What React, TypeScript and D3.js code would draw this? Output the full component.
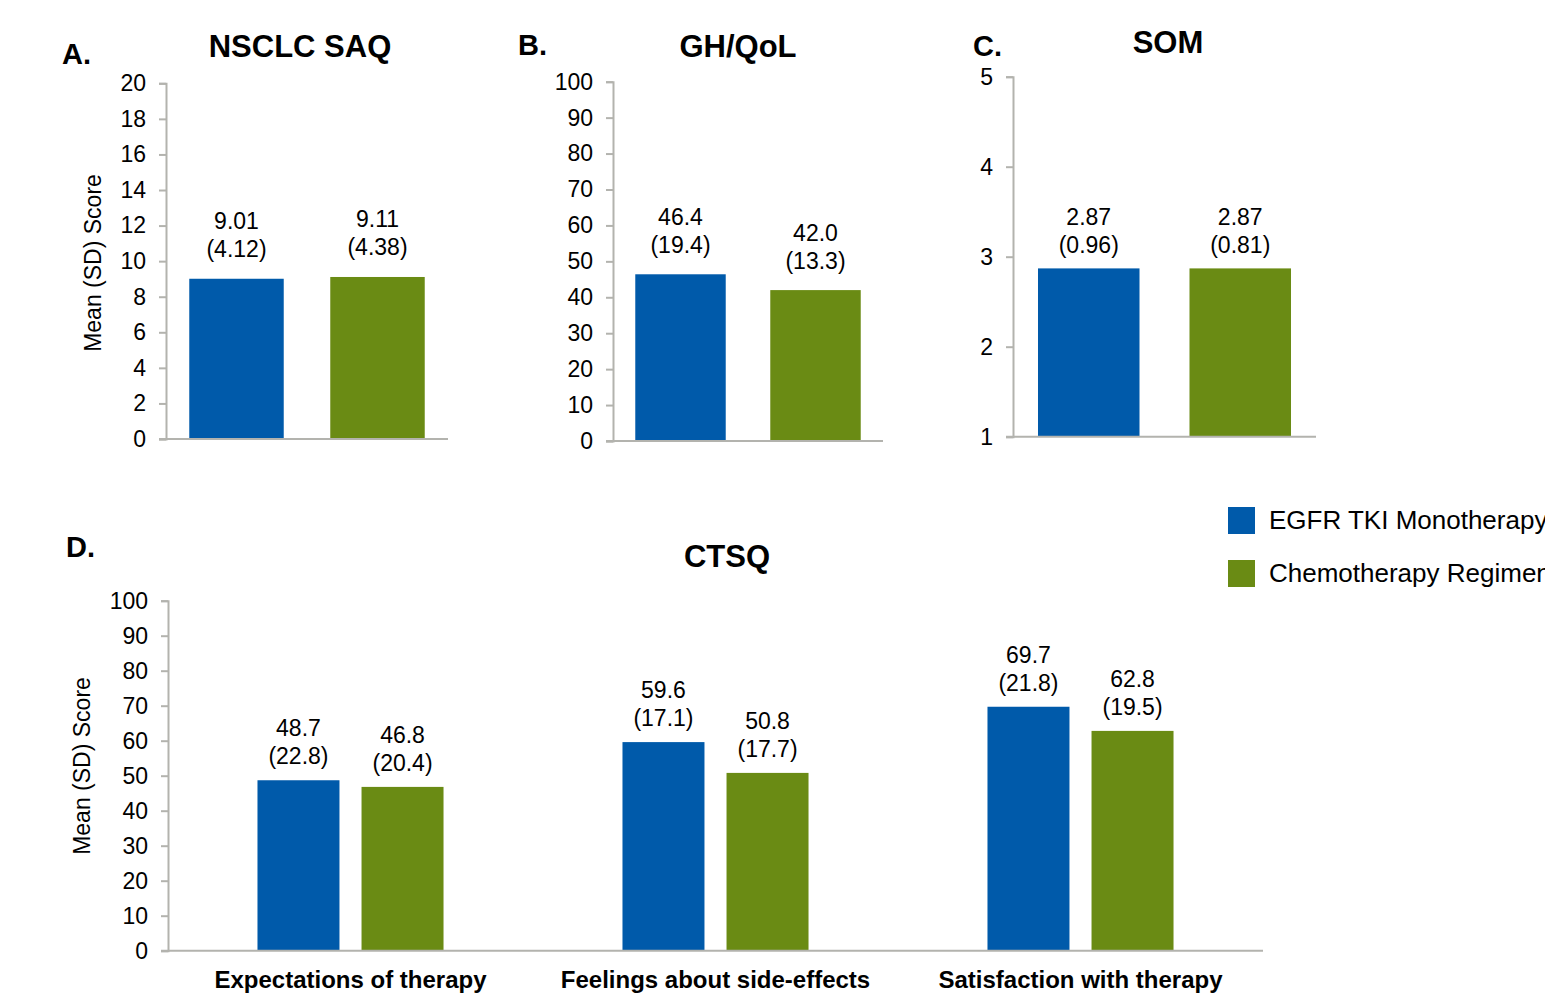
import React, { useEffect, useRef } from 'react';
import * as d3 from 'd3';

// series
const seriesNames = ['EGFR TKI Monotherapy', 'Chemotherapy Regimen'];
const seriesColors = ['#005aaa', '#6a8b14'];

// panel A - NSCLC SAQ
const saqMeans = [9.01, 9.11];
const saqSD = [4.12, 4.38];
const saqTicks = [0, 2, 4, 6, 8, 10, 12, 14, 16, 18, 20];

// panel B - GH/QoL
const ghqolMeans = [46.4, 42.0];
const ghqolSD = [19.4, 13.3];
const pctTicks = [0, 10, 20, 30, 40, 50, 60, 70, 80, 90, 100];

// panel C - SOM
const somMeans = [2.87, 2.87];
const somSD = [0.96, 0.81];
const somTicks = [1, 2, 3, 4, 5];

// panel D - CTSQ
const ctsqCategories = ['Expectations of therapy', 'Feelings about side-effects', 'Satisfaction with therapy'];
const ctsqEgfrMeans = [48.7, 59.6, 69.7];
const ctsqEgfrSD = [22.8, 17.1, 21.8];
const ctsqChemoMeans = [46.8, 50.8, 62.8];
const ctsqChemoSD = [20.4, 17.7, 19.5];

const FONT = '"Liberation Sans", Arial, sans-serif';
const AXIS_COLOR = '#b3b3ae';

type Sel = d3.Selection<SVGGElement, unknown, null, undefined>;

function addText(g: Sel, x: number, y: number, text: string, size: number, opts: { bold?: boolean; anchor?: string } = {}) {
  return g.append('text')
    .attr('x', x).attr('y', y)
    .attr('text-anchor', opts.anchor ?? 'middle')
    .style('font-family', FONT)
    .style('font-weight', opts.bold ? 'bold' : 'normal')
    .style('font-size', `${size}px`)
    .attr('fill', '#000')
    .text(text);
}

function drawYAxis(g: Sel, y: d3.ScaleLinear<number, number>, x0: number, x1: number, ticks: number[]) {
  const ax = g.append('g')
    .attr('transform', `translate(${x0},0)`)
    .call(d3.axisLeft(y).tickValues(ticks).tickSize(7).tickPadding(13).tickFormat(d3.format('d')));
  ax.select('.domain').attr('stroke', AXIS_COLOR).attr('stroke-width', 2);
  ax.selectAll('.tick line').attr('stroke', AXIS_COLOR).attr('stroke-width', 2);
  ax.selectAll('.tick text')
    .attr('fill', '#000')
    .style('font-family', FONT)
    .style('font-size', '23px');
  // baseline
  g.append('line')
    .attr('x1', x0 - 7).attr('x2', x1)
    .attr('y1', y.range()[0]).attr('y2', y.range()[0])
    .attr('stroke', AXIS_COLOR).attr('stroke-width', 2);
}

function barLabel(g: Sel, cx: number, top: number, gap: number, mean: string, sd: string) {
  addText(g, cx, top - gap - 28, mean, 23);
  addText(g, cx, top - gap, `(${sd})`, 23);
}

function drawSmallPanel(
  svg: Sel,
  opts: { x0: number; x1: number; yTop: number; yBot: number; domain: [number, number]; ticks: number[]; means: number[]; sds: number[]; digits: number; gap: number },
) {
  const { x0, x1, yTop, yBot, domain, ticks, means, sds, digits, gap } = opts;
  const g = svg.append('g');
  const y = d3.scaleLinear().domain(domain).range([yBot, yTop]);
  const x = d3.scaleBand<string>().domain(seriesNames).range([x0, x1]).paddingInner(0.33).paddingOuter(0.165);

  seriesNames.forEach((s, i) => {
    g.append('rect')
      .attr('x', x(s)!)
      .attr('y', y(means[i]))
      .attr('width', x.bandwidth())
      .attr('height', yBot - y(means[i]))
      .attr('fill', seriesColors[i]);
    barLabel(g, x(s)! + x.bandwidth() / 2, y(means[i]), gap, means[i].toFixed(digits), sds[i].toFixed(digits));
  });
  drawYAxis(g, y, x0, x1, ticks);
}

function yLabel(svg: Sel, cx: number, cy: number) {
  const g = svg.append('g').attr('transform', `translate(${cx},${cy}) rotate(-90)`) as unknown as Sel;
  addText(g, 0, 0, 'Mean (SD) Score', 23).attr('dy', '0.35em');
}

export default function App() {
  const ref = useRef<SVGSVGElement>(null);

  useEffect(() => {
    if (!ref.current) return;
    const root = d3.select(ref.current);
    root.selectAll('*').remove();
    const svg = root.append('g') as unknown as Sel;

    // A
    addText(svg, 62, 64, 'A.', 29, { bold: true, anchor: 'start' });
    addText(svg, 300, 57, 'NSCLC SAQ', 31, { bold: true });
    yLabel(svg, 93, 263);
    drawSmallPanel(svg, { x0: 166, x1: 448, yTop: 83.3, yBot: 439, domain: [0, 20], ticks: saqTicks, means: saqMeans, sds: saqSD, digits: 2, gap: 22 });

    // B
    addText(svg, 518, 55, 'B.', 29, { bold: true, anchor: 'start' });
    addText(svg, 738, 57, 'GH/QoL', 31, { bold: true });
    drawSmallPanel(svg, { x0: 613, x1: 883, yTop: 81.7, yBot: 441, domain: [0, 100], ticks: pctTicks, means: ghqolMeans, sds: ghqolSD, digits: 1, gap: 21 });

    // C
    addText(svg, 973, 56, 'C.', 29, { bold: true, anchor: 'start' });
    addText(svg, 1168, 53, 'SOM', 31, { bold: true });
    drawSmallPanel(svg, { x0: 1013, x1: 1316, yTop: 76.7, yBot: 436.7, domain: [1, 5], ticks: somTicks, means: somMeans, sds: somSD, digits: 2, gap: 15 });

    // D
    addText(svg, 66, 557, 'D.', 29, { bold: true, anchor: 'start' });
    addText(svg, 727, 567, 'CTSQ', 31, { bold: true });
    yLabel(svg, 82, 766);
    const dx0 = 168, dx1 = 1263, dTop = 600.7, dBot = 950.7;
    const gD = svg.append('g');
    const yD = d3.scaleLinear().domain([0, 100]).range([dBot, dTop]);
    const xD = d3.scaleBand<string>().domain(ctsqCategories).range([dx0, dx1]).padding(0);
    const xS = d3.scaleBand<string>().domain(seriesNames).range([0, xD.bandwidth()]).paddingInner(0.212).paddingOuter(0.86);
    const groups = [
      { means: ctsqEgfrMeans, sds: ctsqEgfrSD },
      { means: ctsqChemoMeans, sds: ctsqChemoSD },
    ];
    ctsqCategories.forEach((c, ci) => {
      seriesNames.forEach((s, si) => {
        const v = groups[si].means[ci];
        const bx = xD(c)! + xS(s)!;
        gD.append('rect')
          .attr('x', bx)
          .attr('y', yD(v))
          .attr('width', xS.bandwidth())
          .attr('height', dBot - yD(v))
          .attr('fill', seriesColors[si]);
        barLabel(gD, bx + xS.bandwidth() / 2, yD(v), 16, v.toFixed(1), groups[si].sds[ci].toFixed(1));
      });
      addText(gD, xD(c)! + xD.bandwidth() / 2, 988, c, 24, { bold: true });
    });
    drawYAxis(gD, yD, dx0, dx1, pctTicks);

    // legend
    const lg = svg.append('g').attr('transform', 'translate(1228,507)') as unknown as Sel;
    seriesNames.forEach((s, i) => {
      lg.append('rect').attr('x', 0).attr('y', i * 53).attr('width', 27).attr('height', 27).attr('fill', seriesColors[i]);
      addText(lg, 41, i * 53 + 22, s, 26, { anchor: 'start' });
    });
  }, []);

  return (
    <svg
      ref={ref}
      width={1545}
      height={994}
      style={{ position: 'absolute', left: 0, top: 0, background: '#fff' }}
    />
  );
}
